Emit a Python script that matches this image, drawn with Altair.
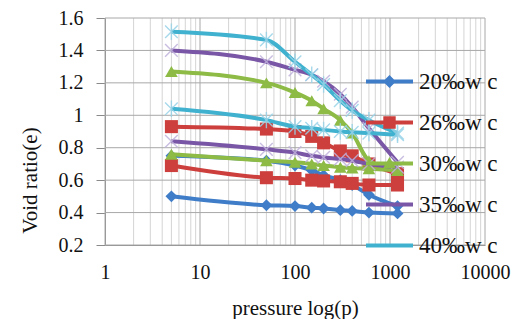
import altair as alt
import pandas as pd

series_labels = ["20‰w c", "26‰w c", "30‰w c", "35‰w c", "40‰w c"]
series_colors = ["#3f7dc8", "#cc3f3c", "#8dbb45", "#7a57a6", "#40b2cf"]
marker_colors = ["#3f7dc8", "#cc3f3c", "#8dbb45", "#c0b2dc", "#98d3e8"]
marker_shapes = ["diamond", "square", "triangle-up",
                 "M-1,-1L1,1M-1,1L1,-1", "M-1,-1L1,1M-1,1L1,-1M0,-1.3L0,1.3"]
marker_filled = [True, True, True, False, False]
marker_sizes = [140, 170, 160, 160, 160]

pressure = [5, 50, 100, 150, 200, 300, 400, 600, 1200]

e20_upper = [0.75, 0.72, 0.69, 0.66, 0.63, 0.60, 0.57, 0.51, 0.44]
e20_lower = [0.50, 0.445, 0.44, 0.43, 0.425, 0.415, 0.41, 0.40, 0.395]
e26_upper = [0.93, 0.915, 0.90, 0.87, 0.83, 0.78, 0.75, 0.70, 0.64]
e26_lower = [0.69, 0.615, 0.61, 0.60, 0.595, 0.59, 0.58, 0.57, 0.57]
e30_upper = [1.27, 1.20, 1.14, 1.09, 1.04, 0.97, 0.89, 0.72, 0.66]
e30_lower = [0.76, 0.72, 0.71, 0.70, 0.69, 0.68, 0.675, 0.67, 0.66]
e35_upper = [1.40, 1.33, 1.28, 1.25, 1.21, 1.13, 1.05, 0.92, 0.71]
e35_lower = [0.84, 0.79, 0.77, 0.75, 0.74, 0.73, 0.72, 0.70, 0.68]
e40_upper = [1.515, 1.465, 1.33, 1.25, 1.19, 1.09, 1.03, 0.97, 0.89]
e40_lower = [1.04, 0.97, 0.93, 0.92, 0.91, 0.90, 0.895, 0.89, 0.88]

y_ticks = [0.2, 0.4, 0.6, 0.8, 1.0, 1.2, 1.4, 1.6]
x_major = [1, 10, 100, 1000, 10000]
x_minor = [m * d for d in [1, 10, 100, 1000] for m in range(2, 10)]

curves = [
    (series_labels[0], "upper", e20_upper), (series_labels[0], "lower", e20_lower),
    (series_labels[1], "upper", e26_upper), (series_labels[1], "lower", e26_lower),
    (series_labels[2], "upper", e30_upper), (series_labels[2], "lower", e30_lower),
    (series_labels[3], "upper", e35_upper), (series_labels[3], "lower", e35_lower),
    (series_labels[4], "upper", e40_upper), (series_labels[4], "lower", e40_lower),
]
rows = []
for label, part, vals in curves:
    for p, e in zip(pressure, vals):
        rows.append({"series": label, "curve": label + " " + part, "p": p, "e": e})
df = pd.DataFrame(rows)

FONT = "Liberation Serif"

x_enc = alt.X(
    "p:Q",
    scale=alt.Scale(type="log", domain=[1, 10000], nice=False),
    axis=alt.Axis(
        values=x_major,
        format="d",
        title="pressure log(p)",
        grid=False,
        tickSize=0,
        labelPadding=17,
        titlePadding=15,
        domainColor="#8a8a8a",
        labelFlush=False,
        labelOverlap=False,
    ),
)
y_enc = alt.Y(
    "e:Q",
    scale=alt.Scale(domain=[0.2, 1.6], nice=False, zero=False),
    axis=alt.Axis(
        values=y_ticks,
        format=".1~f",
        title="Void ratio(e)",
        grid=False,
        tickSize=9,
        tickColor="#8a8a8a",
        domainColor="#8a8a8a",
        labelPadding=13,
        labelOverlap=False,
        labelFlush=False,
        titleAngle=270,
        titleX=-75,
        titleY=162,
        titleAlign="center",
        titleBaseline="middle",
    ),
)

base = alt.Chart(df)

minor_grid = alt.Chart(pd.DataFrame({"p": x_minor})).mark_rule(
    color="#d4d4d4", strokeWidth=1
).encode(x=x_enc)
major_grid_x = alt.Chart(pd.DataFrame({"p": x_major})).mark_rule(
    color="#a8a8a8", strokeWidth=1
).encode(x=x_enc)
major_grid_y = alt.Chart(pd.DataFrame({"e": y_ticks})).mark_rule(
    color="#a8a8a8", strokeWidth=1
).encode(y=y_enc)

layers = [minor_grid, major_grid_x, major_grid_y]
for label, lcol, mcol, shp, fil, sz in zip(series_labels, series_colors, marker_colors,
                                          marker_shapes, marker_filled, marker_sizes):
    sub = base.transform_filter(alt.datum.series == label)
    layers.append(
        sub.mark_line(interpolate="monotone", strokeWidth=4, color=lcol).encode(
            x=x_enc, y=y_enc, detail="curve:N"
        )
    )
    if fil:
        pts = sub.mark_point(filled=True, opacity=1, strokeWidth=0, shape=shp, size=sz, color=mcol)
    else:
        pts = sub.mark_point(filled=False, opacity=0.85, strokeWidth=1.4, shape=shp, size=sz, color=mcol)
    layers.append(pts.encode(x=x_enc, y=y_enc))

line_bar = "M-2.35,-0.19L2.35,-0.19L2.35,0.19L-2.35,0.19Z"
legend_paths = [
    line_bar + "M0,-0.65L0.65,0L0,0.65L-0.65,0Z",
    line_bar + "M-0.62,-0.62L0.62,-0.62L0.62,0.62L-0.62,0.62Z",
    line_bar + "M0,-0.65L0.65,0.5L-0.65,0.5Z",
    line_bar,
    line_bar,
]

legend_def = alt.Legend(
    title=None,
    orient="none",
    legendX=273,
    legendY=52,
    symbolSize=400,
    symbolStrokeWidth=0,
    symbolOpacity=1,
    labelFont=FONT,
    labelFontSize=23,
    labelColor="#111111",
    labelOffset=18,
    rowPadding=17,
    padding=0,
)

legend_layer = base.transform_filter("false").mark_point(filled=True).encode(
    color=alt.Color("series:N", scale=alt.Scale(domain=series_labels, range=series_colors), legend=legend_def),
    shape=alt.Shape("series:N", scale=alt.Scale(domain=series_labels, range=legend_paths), legend=legend_def),
)

chart = alt.layer(*layers, legend_layer).properties(
    width=380,
    height=227,
    autosize=alt.AutoSizeParams(type="none"),
    padding={"left": 97, "top": 10, "right": 27, "bottom": 74},
    background="white",
).configure_view(stroke=None).configure_axis(
    labelFont=FONT,
    labelFontSize=20,
    labelColor="#111111",
    titleFont=FONT,
    titleFontSize=21,
    titleFontWeight="normal",
    titleColor="#111111",
)

chart.save("out.html", embed_options={"renderer": "svg", "actions": False})
